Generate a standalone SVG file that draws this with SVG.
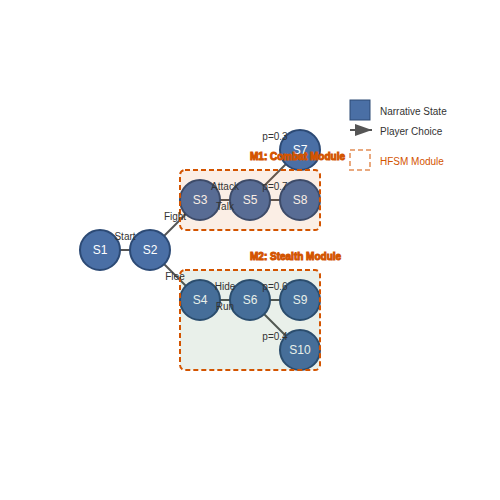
<svg xmlns="http://www.w3.org/2000/svg" width="500" height="500" viewBox="0 0 500 500">
<style>
.node{fill:#4a6fa5;stroke:#2c4a75;stroke-width:2}
.nt{font-family:"Liberation Sans",Arial,sans-serif;font-size:12px;fill:#fff;text-anchor:middle}
.edge{stroke:#555;stroke-width:2;fill:none}
.el{font-family:"Liberation Sans",Arial,sans-serif;font-size:10px;fill:#333;text-anchor:middle}
.mod{stroke:#d35400;stroke-width:2;stroke-dasharray:5,3}
.mt{font-family:"Liberation Sans",Arial,sans-serif;font-size:10px;font-weight:bold;fill:#d35400;stroke:#d35400;stroke-width:1}
.lt{font-family:"Liberation Sans",Arial,sans-serif;font-size:10px;fill:#333}
</style>
<defs>
<marker id="arr" markerUnits="userSpaceOnUse" markerWidth="18" markerHeight="12" refX="17" refY="6" orient="auto">
<path d="M0,0 L17,6 L0,12 Z" fill="#555"/>
</marker>
</defs>
<rect width="500" height="500" fill="#fff"/>
<g id="connectors">
<line class="edge" x1="100" y1="250" x2="150" y2="250"/>
<line class="edge" x1="150" y1="250" x2="200" y2="200"/>
<line class="edge" x1="150" y1="250" x2="200" y2="300"/>
<line class="edge" x1="200" y1="200" x2="250" y2="200"/>
<line class="edge" x1="250" y1="200" x2="300" y2="200"/>
<line class="edge" x1="250" y1="200" x2="300" y2="150"/>
<line class="edge" x1="200" y1="300" x2="250" y2="300"/>
<line class="edge" x1="250" y1="300" x2="300" y2="300"/>
<line class="edge" x1="250" y1="300" x2="300" y2="350"/>
</g>
<g id="S1"><circle class="node" cx="100" cy="250" r="20"/><text class="nt" x="100" y="254">S1</text></g>
<g id="S2"><circle class="node" cx="150" cy="250" r="20"/><text class="nt" x="150" y="254">S2</text></g>
<g id="S3"><circle class="node" cx="200" cy="200" r="20"/><text class="nt" x="200" y="204">S3</text></g>
<g id="S5"><circle class="node" cx="250" cy="200" r="20"/><text class="nt" x="250" y="204">S5</text></g>
<g id="S7"><circle class="node" cx="300" cy="150" r="20"/><text class="nt" x="300" y="154">S7</text></g>
<g id="S8"><circle class="node" cx="300" cy="200" r="20"/><text class="nt" x="300" y="204">S8</text></g>
<g id="S4"><circle class="node" cx="200" cy="300" r="20"/><text class="nt" x="200" y="304">S4</text></g>
<g id="S6"><circle class="node" cx="250" cy="300" r="20"/><text class="nt" x="250" y="304">S6</text></g>
<g id="S9"><circle class="node" cx="300" cy="300" r="20"/><text class="nt" x="300" y="304">S9</text></g>
<g id="S10"><circle class="node" cx="300" cy="350" r="20"/><text class="nt" x="300" y="354">S10</text></g>
<g id="M1">
<rect class="mod" x="180" y="170" width="140" height="60" rx="5" fill="#d35400" fill-opacity="0.1"/>
<text class="mt" x="250" y="160">M1: Combat Module</text>
</g>
<g id="M2">
<rect class="mod" x="180" y="270" width="140" height="100" rx="5" fill="#236a2d" fill-opacity="0.1"/>
<text class="mt" x="250" y="260">M2: Stealth Module</text>
</g>
<g id="edge-labels">
<text class="el" x="125" y="240">Start</text>
<text class="el" x="175" y="220">Fight</text>
<text class="el" x="175" y="280">Flee</text>
<text class="el" x="225" y="190">Attack</text>
<text class="el" x="225" y="210">Talk</text>
<text class="el" x="275" y="140">p=0.3</text>
<text class="el" x="275" y="190">p=0.7</text>
<text class="el" x="225" y="290">Hide</text>
<text class="el" x="225" y="310">Run</text>
<text class="el" x="275" y="290">p=0.6</text>
<text class="el" x="275" y="340">p=0.4</text>
</g>
<g id="legend">
<rect x="350" y="100" width="20" height="20" fill="#4a6fa5" stroke="#2c4a75" stroke-width="1"/>
<text class="lt" x="380" y="115">Narrative State</text>
<line x1="350" y1="130" x2="372" y2="130" stroke="#555" stroke-width="2" marker-end="url(#arr)"/>
<text class="lt" x="380" y="135">Player Choice</text>
<rect x="350" y="150" width="20" height="20" fill="none" stroke="#d35400" stroke-opacity="0.5" stroke-width="2" stroke-dasharray="5,3"/>
<text class="lt" x="380" y="165" style="fill:#d35400">HFSM Module</text>
</g>
</svg>
